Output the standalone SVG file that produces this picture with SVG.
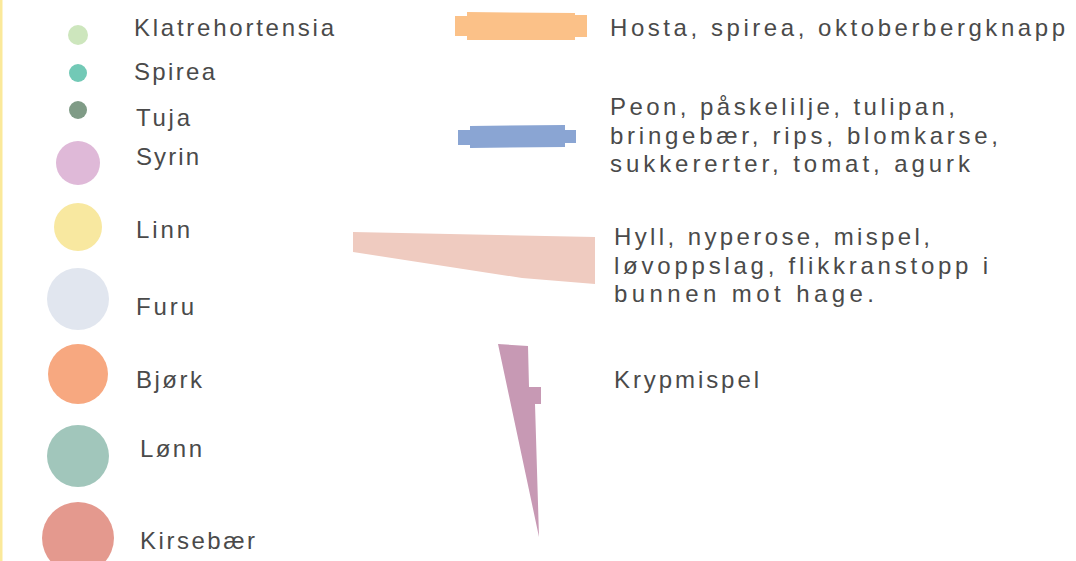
<svg xmlns="http://www.w3.org/2000/svg" width="1076" height="561" viewBox="0 0 1076 561">
  <style>
    .lbl { font-family: "Liberation Sans", Arial, sans-serif; font-size: 24px; fill: #4a4a4a; }
  </style>
  <rect width="1076" height="561" fill="#ffffff"/>
  <!-- left margin rule -->
  <rect x="0" y="0" width="2.5" height="561" fill="#fbe99a"/>

  <!-- tree / shrub symbols -->
  <g id="klatrehortensia">
    <circle cx="78" cy="35" r="10" fill="#cde6bd"/>
    <text class="lbl" x="134" y="36" textLength="200" lengthAdjust="spacing">Klatrehortensia</text>
  </g>
  <g id="spirea">
    <circle cx="78" cy="73" r="9" fill="#72c9b6"/>
    <text class="lbl" x="134" y="80" textLength="81" lengthAdjust="spacing">Spirea</text>
  </g>
  <g id="tuja">
    <circle cx="78" cy="110" r="9" fill="#7f9b86"/>
    <text class="lbl" x="136" y="126" textLength="54" lengthAdjust="spacing">Tuja</text>
  </g>
  <g id="syrin">
    <circle cx="78" cy="163" r="22" fill="#dfb9d8"/>
    <text class="lbl" x="136" y="165" textLength="63" lengthAdjust="spacing">Syrin</text>
  </g>
  <g id="linn">
    <circle cx="78" cy="227" r="24" fill="#f8e8a0"/>
    <text class="lbl" x="136" y="238" textLength="54" lengthAdjust="spacing">Linn</text>
  </g>
  <g id="furu">
    <circle cx="78" cy="299" r="31" fill="#e1e6ef"/>
    <text class="lbl" x="136" y="315" textLength="58" lengthAdjust="spacing">Furu</text>
  </g>
  <g id="bjork">
    <circle cx="78" cy="374" r="30" fill="#f7a880"/>
    <text class="lbl" x="136" y="388" textLength="66" lengthAdjust="spacing">Bjørk</text>
  </g>
  <g id="lonn">
    <circle cx="78" cy="456" r="31" fill="#a1c6bb"/>
    <text class="lbl" x="140" y="457" textLength="62" lengthAdjust="spacing">Lønn</text>
  </g>
  <g id="kirsebaer">
    <circle cx="78" cy="538" r="36" fill="#e4998e"/>
    <text class="lbl" x="140" y="549" textLength="115" lengthAdjust="spacing">Kirsebær</text>
  </g>

  <!-- bed / hedge symbols -->
  <g id="hosta">
    <polygon points="455,16 467,16 467,12 575,13 575,15 587,15 587,37 575,37 575,40 467,40 467,36 455,36" fill="#fbc188"/>
    <text class="lbl" x="610" y="36" textLength="455" lengthAdjust="spacing">Hosta, spirea, oktoberbergknapp</text>
  </g>
  <g id="peon">
    <polygon points="458,130 470,130 470,126 565,125 565,130 576,130 576,143 565,143 565,147 470,148 470,145 458,145" fill="#8aa5d3"/>
    <text class="lbl" x="610" y="115" textLength="345" lengthAdjust="spacing">Peon, påskelilje, tulipan,</text>
    <text class="lbl" x="610" y="144" textLength="388" lengthAdjust="spacing">bringebær, rips, blomkarse,</text>
    <text class="lbl" x="610" y="172" textLength="360" lengthAdjust="spacing">sukkererter, tomat, agurk</text>
  </g>
  <g id="hyll">
    <polygon points="353,232 595,237 595,284 522,278 353,252" fill="#efcbc0"/>
    <text class="lbl" x="614" y="245" textLength="316" lengthAdjust="spacing">Hyll, nyperose, mispel,</text>
    <text class="lbl" x="614" y="274" textLength="374" lengthAdjust="spacing">løvoppslag, flikkranstopp i</text>
    <text class="lbl" x="614" y="302" textLength="260" lengthAdjust="spacing">bunnen mot hage.</text>
  </g>
  <g id="krypmispel">
    <polygon points="498,344 528,346 529,387 541,387 541,404 535,404 539,537" fill="#c799b4"/>
    <text class="lbl" x="614" y="388" textLength="145" lengthAdjust="spacing">Krypmispel</text>
  </g>
</svg>
